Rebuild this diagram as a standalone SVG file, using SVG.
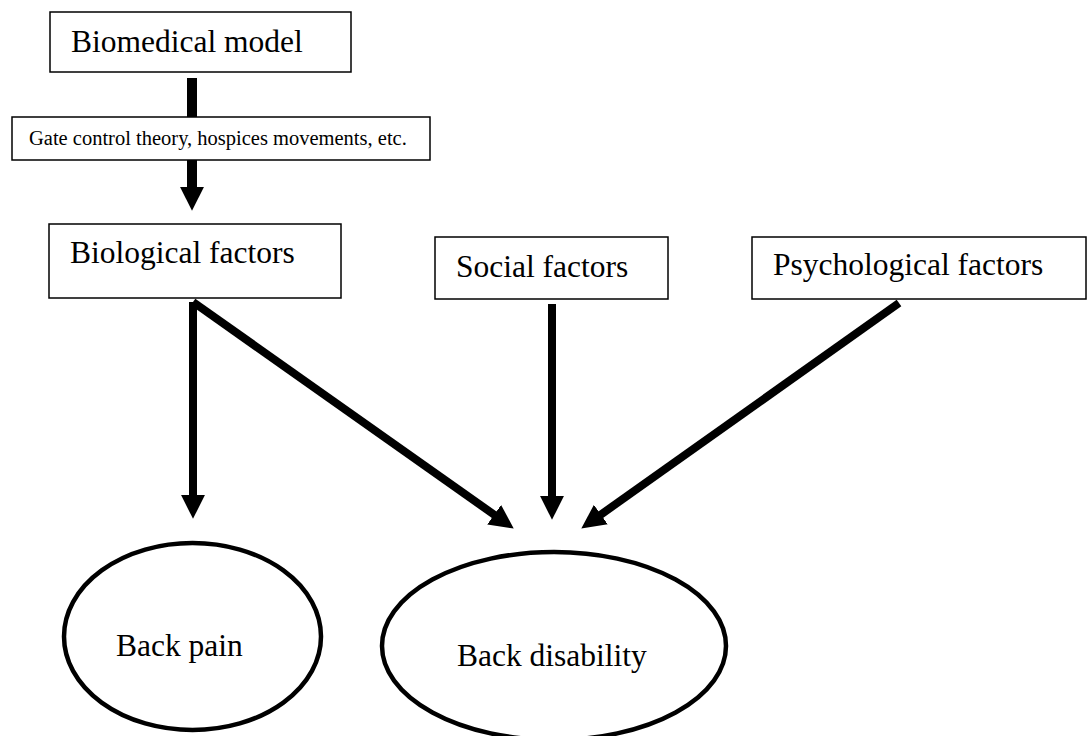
<svg xmlns="http://www.w3.org/2000/svg" width="1088" height="736" viewBox="0 0 1088 736">
<style>
.box{fill:#fff;stroke:#000;stroke-width:1.5}
.oval{fill:#fff;stroke:#000;stroke-width:4.5}
.t{font-family:"Liberation Serif","Times New Roman",serif;font-size:31.5px;fill:#000}
.ts{font-family:"Liberation Serif","Times New Roman",serif;font-size:20.5px;fill:#000}
.c{stroke:#000;stroke-width:8;fill:none}
</style>
<defs>
<marker id="ah" markerUnits="userSpaceOnUse" markerWidth="24" markerHeight="24" viewBox="0 0 23 23" refX="3" refY="11.5" orient="auto">
<path d="M0,0 L23,11.5 L0,23 z" fill="#000"/>
</marker>
</defs>
<rect width="1088" height="736" fill="#fff"/>
<g id="connectors">
<line class="c" x1="192" y1="78" x2="192" y2="117" style="stroke-width:10"/>
<line class="c" x1="192" y1="159" x2="192" y2="190" style="stroke-width:10" marker-end="url(#ah)"/>
<line class="c" x1="193" y1="302" x2="193" y2="498" marker-end="url(#ah)"/>
<line class="c" x1="193" y1="302" x2="496.7" y2="516.5" marker-end="url(#ah)"/>
<line class="c" x1="552" y1="304" x2="552" y2="499" marker-end="url(#ah)"/>
<line class="c" x1="899" y1="303" x2="598.3" y2="516.4" marker-end="url(#ah)"/>
</g>
<g id="biomedical">
<rect class="box" x="50" y="12" width="301" height="60"/>
<text class="t" x="71" y="52">Biomedical model</text>
</g>
<g id="gate">
<rect class="box" x="12" y="117" width="418" height="43"/>
<text class="ts" x="29" y="145">Gate control theory, hospices movements, etc.</text>
</g>
<g id="biological">
<rect class="box" x="49" y="224" width="292" height="74"/>
<text class="t" x="70" y="263">Biological factors</text>
</g>
<g id="social">
<rect class="box" x="435" y="237" width="233" height="62"/>
<text class="t" x="456" y="277">Social factors</text>
</g>
<g id="psychological">
<rect class="box" x="752" y="237" width="334" height="62"/>
<text class="t" x="773" y="275">Psychological factors</text>
</g>
<g id="backpain">
<ellipse class="oval" cx="192.5" cy="636.5" rx="128.5" ry="93.5"/>
<text class="t" x="116" y="656">Back pain</text>
</g>
<g id="backdisability">
<ellipse class="oval" cx="554" cy="646" rx="172" ry="94"/>
<text class="t" x="457" y="666">Back disability</text>
</g>
</svg>
